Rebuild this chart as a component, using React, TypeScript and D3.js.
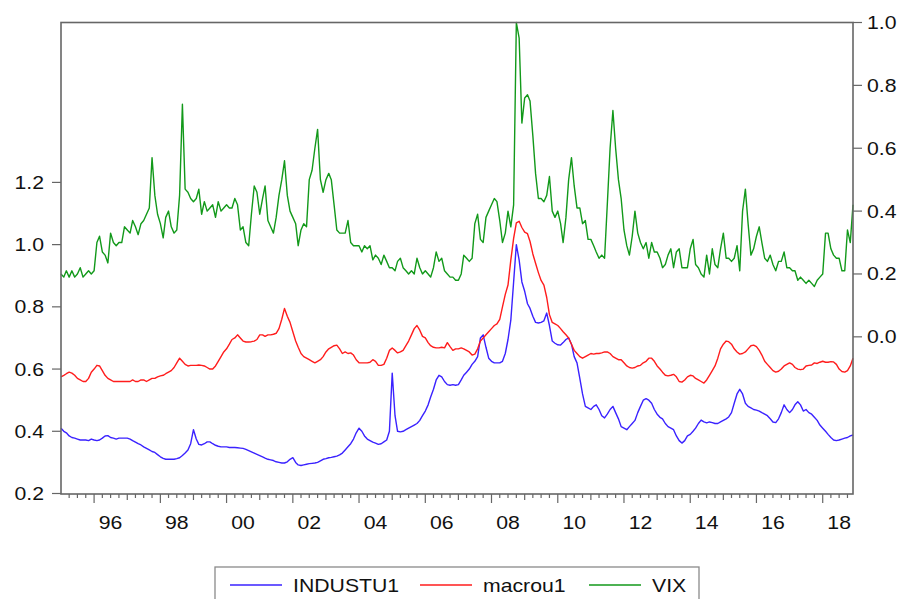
import React from "react";
import * as d3 from "d3";

// Monthly data, 1995M01 - 2018M12 (12 values per row = one year)
const industu1 = [
  0.41, 0.40, 0.395, 0.385, 0.38, 0.378, 0.375, 0.372, 0.372, 0.372, 0.37, 0.375,
  0.372, 0.37, 0.372, 0.378, 0.385, 0.386, 0.38, 0.378, 0.375, 0.378, 0.378, 0.378,
  0.378, 0.375, 0.37, 0.365, 0.36, 0.356, 0.35, 0.345, 0.34, 0.335, 0.332, 0.325,
  0.318, 0.313, 0.31, 0.31, 0.31, 0.31, 0.312, 0.315, 0.322, 0.33, 0.34, 0.36,
  0.405, 0.375, 0.358, 0.356, 0.36, 0.366, 0.366, 0.36, 0.355, 0.352, 0.35, 0.35,
  0.35, 0.348, 0.348, 0.348, 0.347, 0.346, 0.345, 0.342, 0.338, 0.334, 0.33, 0.326,
  0.322, 0.318, 0.314, 0.31, 0.308, 0.306, 0.302, 0.30, 0.298, 0.298, 0.302, 0.31,
  0.315, 0.30, 0.292, 0.29, 0.292, 0.294, 0.296, 0.297, 0.298, 0.30, 0.305, 0.31,
  0.312, 0.315, 0.316, 0.318, 0.32, 0.324, 0.33, 0.34, 0.35, 0.36, 0.375, 0.395,
  0.41, 0.40, 0.385, 0.375, 0.37, 0.365, 0.362, 0.358, 0.36, 0.366, 0.372, 0.40,
  0.587, 0.45, 0.40, 0.398, 0.40, 0.405, 0.41, 0.415, 0.42, 0.425, 0.435, 0.45,
  0.465, 0.485, 0.51, 0.535, 0.565, 0.58, 0.575, 0.56, 0.55, 0.548, 0.55, 0.548,
  0.55, 0.565, 0.58, 0.59, 0.60, 0.615, 0.625, 0.64, 0.70, 0.71, 0.67, 0.635,
  0.625, 0.62, 0.62, 0.62, 0.625, 0.65, 0.695, 0.757, 0.88, 1.0, 0.95, 0.88,
  0.85, 0.81, 0.795, 0.77, 0.75, 0.748, 0.75, 0.755, 0.78, 0.74, 0.69, 0.683,
  0.678, 0.677, 0.685, 0.695, 0.70, 0.68, 0.64, 0.62, 0.57, 0.52, 0.48, 0.475,
  0.47, 0.48, 0.485, 0.47, 0.45, 0.443, 0.455, 0.47, 0.48, 0.46, 0.44, 0.415,
  0.41, 0.405, 0.415, 0.425, 0.435, 0.46, 0.48, 0.50, 0.505, 0.50, 0.49, 0.47,
  0.455, 0.445, 0.44, 0.425, 0.415, 0.41, 0.405, 0.385, 0.37, 0.362, 0.37, 0.385,
  0.39, 0.40, 0.41, 0.425, 0.436, 0.43, 0.427, 0.43, 0.428, 0.425, 0.425, 0.43,
  0.435, 0.44, 0.446, 0.46, 0.49, 0.52, 0.535, 0.52, 0.49, 0.48, 0.475, 0.47,
  0.468, 0.465, 0.46, 0.455, 0.45, 0.44, 0.43, 0.428, 0.44, 0.46, 0.485, 0.47,
  0.46, 0.47, 0.485, 0.495, 0.485, 0.465, 0.47, 0.46, 0.455, 0.445, 0.435, 0.42,
  0.41, 0.40, 0.39, 0.38, 0.372, 0.37, 0.372, 0.375, 0.378, 0.38, 0.385, 0.388,
];

const macrou1 = [
  0.575, 0.58, 0.585, 0.59, 0.587, 0.58, 0.57, 0.565, 0.56, 0.56, 0.57, 0.59,
  0.60, 0.612, 0.61, 0.595, 0.58, 0.57, 0.565, 0.56, 0.56, 0.56, 0.56, 0.56,
  0.56, 0.56, 0.565, 0.56, 0.56, 0.565, 0.565, 0.56, 0.565, 0.57, 0.57, 0.575,
  0.578, 0.58, 0.585, 0.59, 0.595, 0.605, 0.62, 0.635, 0.625, 0.615, 0.61, 0.612,
  0.612, 0.612, 0.613, 0.612, 0.61, 0.605, 0.60, 0.60, 0.61, 0.625, 0.64, 0.655,
  0.665, 0.68, 0.695, 0.70, 0.71, 0.70, 0.69, 0.687, 0.687, 0.688, 0.69, 0.695,
  0.71, 0.71, 0.705, 0.71, 0.71, 0.712, 0.715, 0.73, 0.76, 0.795, 0.77, 0.75,
  0.72, 0.69, 0.67, 0.65, 0.64, 0.635, 0.63, 0.625, 0.62, 0.625, 0.63, 0.64,
  0.655, 0.665, 0.67, 0.675, 0.677, 0.665, 0.65, 0.655, 0.65, 0.652, 0.645, 0.63,
  0.62, 0.62, 0.62, 0.62, 0.622, 0.63, 0.625, 0.612, 0.612, 0.615, 0.635, 0.66,
  0.668, 0.66, 0.652, 0.655, 0.66, 0.675, 0.69, 0.71, 0.73, 0.74, 0.725, 0.705,
  0.70, 0.685, 0.675, 0.67, 0.668, 0.668, 0.67, 0.668, 0.685, 0.672, 0.66, 0.665,
  0.665, 0.668, 0.665, 0.66, 0.655, 0.645, 0.648, 0.665, 0.69, 0.70, 0.71, 0.72,
  0.73, 0.74, 0.745, 0.76, 0.80, 0.84, 0.87, 0.95, 1.02, 1.07, 1.075, 1.055,
  1.04, 1.035, 1.01, 0.97, 0.94, 0.91, 0.885, 0.87, 0.83, 0.775, 0.75, 0.745,
  0.74, 0.73, 0.72, 0.71, 0.70, 0.68, 0.66, 0.65, 0.64, 0.635, 0.64, 0.645,
  0.65, 0.648, 0.65, 0.65, 0.652, 0.655, 0.655, 0.65, 0.64, 0.635, 0.63, 0.63,
  0.62, 0.61, 0.605, 0.603, 0.605, 0.61, 0.612, 0.62, 0.625, 0.635, 0.635, 0.625,
  0.61, 0.60, 0.59, 0.58, 0.578, 0.58, 0.583, 0.575, 0.56, 0.558, 0.565, 0.575,
  0.58, 0.578, 0.57, 0.565, 0.56, 0.555, 0.565, 0.58, 0.595, 0.61, 0.635, 0.665,
  0.68, 0.69, 0.688, 0.68, 0.665, 0.655, 0.648, 0.65, 0.655, 0.665, 0.675, 0.677,
  0.672, 0.66, 0.645, 0.625, 0.615, 0.605, 0.595, 0.59, 0.593, 0.60, 0.61, 0.615,
  0.62, 0.615, 0.605, 0.60, 0.598, 0.60, 0.61, 0.612, 0.613, 0.62, 0.618, 0.622,
  0.625, 0.622, 0.622, 0.624, 0.623, 0.615, 0.60, 0.592, 0.59, 0.595, 0.61, 0.635,
];

const vix = [
  0.20, 0.19, 0.21, 0.19, 0.21, 0.19, 0.20, 0.22, 0.19, 0.20, 0.21, 0.20,
  0.21, 0.30, 0.32, 0.27, 0.26, 0.235, 0.33, 0.30, 0.29, 0.30, 0.30, 0.35,
  0.34, 0.33, 0.37, 0.35, 0.325, 0.36, 0.37, 0.39, 0.41, 0.57, 0.45, 0.39,
  0.36, 0.315, 0.38, 0.40, 0.35, 0.33, 0.34, 0.45, 0.74, 0.47, 0.46, 0.44,
  0.43, 0.44, 0.47, 0.39, 0.43, 0.40, 0.41, 0.42, 0.38, 0.43, 0.40, 0.41,
  0.42, 0.41, 0.41, 0.44, 0.42, 0.34, 0.35, 0.30, 0.29, 0.39, 0.48, 0.46,
  0.39, 0.44, 0.48, 0.37, 0.35, 0.33, 0.38, 0.45, 0.50, 0.56, 0.45, 0.40,
  0.38, 0.36, 0.29, 0.34, 0.36, 0.35, 0.50, 0.53, 0.60, 0.66, 0.50, 0.46,
  0.50, 0.52, 0.50, 0.42, 0.34, 0.33, 0.33, 0.33, 0.37, 0.30, 0.29, 0.29,
  0.29, 0.27, 0.29, 0.28, 0.29, 0.245, 0.26, 0.25, 0.23, 0.26, 0.24, 0.22,
  0.22, 0.21, 0.24, 0.25, 0.22, 0.21, 0.20, 0.21, 0.20, 0.25, 0.22, 0.20,
  0.21, 0.20, 0.19, 0.22, 0.27, 0.24, 0.25, 0.21, 0.20, 0.19, 0.19, 0.18,
  0.18, 0.20, 0.26, 0.25, 0.24, 0.25, 0.36, 0.39, 0.31, 0.30, 0.38, 0.40,
  0.42, 0.44, 0.43, 0.37, 0.30, 0.33, 0.40, 0.35, 0.42, 1.0, 0.95, 0.68,
  0.76, 0.77, 0.75, 0.64, 0.52, 0.44, 0.44, 0.43, 0.45, 0.51, 0.40, 0.38,
  0.40, 0.36, 0.30, 0.38, 0.50, 0.57, 0.48, 0.41, 0.41, 0.36, 0.37, 0.31,
  0.31, 0.29, 0.27, 0.25, 0.26, 0.25, 0.42, 0.60, 0.72, 0.60, 0.50, 0.44,
  0.34, 0.29, 0.26, 0.32, 0.40, 0.33, 0.30, 0.28, 0.30, 0.25, 0.30, 0.27,
  0.27, 0.25, 0.22, 0.23, 0.26, 0.28, 0.22, 0.27, 0.28, 0.22, 0.22, 0.22,
  0.28, 0.31, 0.23, 0.22, 0.20, 0.19, 0.26, 0.20, 0.28, 0.23, 0.22, 0.28,
  0.33, 0.25, 0.25, 0.24, 0.25, 0.29, 0.21, 0.40, 0.47, 0.36, 0.26, 0.28,
  0.32, 0.35, 0.30, 0.25, 0.24, 0.26, 0.23, 0.21, 0.24, 0.24, 0.27, 0.22,
  0.22, 0.21, 0.21, 0.18, 0.19, 0.18, 0.17, 0.18, 0.17, 0.16, 0.18, 0.19,
  0.20, 0.33, 0.33, 0.28, 0.26, 0.25, 0.25, 0.21, 0.21, 0.34, 0.30, 0.42,
];

const seriesNames = ["INDUSTU1", "macrou1", "VIX"];
const seriesColors = ["#3a22ff", "#ff1c1c", "#12991a"];
const leftTicks = [0.2, 0.4, 0.6, 0.8, 1.0, 1.2];
const rightTicks = [0.0, 0.2, 0.4, 0.6, 0.8, 1.0];
const labelYears = [1996, 1998, 2000, 2002, 2004, 2006, 2008, 2010, 2012, 2014, 2016, 2018];
const yearLabels = ["96", "98", "00", "02", "04", "06", "08", "10", "12", "14", "16", "18"];

const FONT = "'Liberation Sans', Arial, sans-serif";

export default function App() {
  const W = 904, H = 599;
  const left = 61, right = 853, top = 22.5, bottom = 494;
  const startDate = new Date(1995, 0, 1);
  const endDate = new Date(2018, 11, 1);
  const x = d3.scaleTime().domain([startDate, endDate]).range([left, right]);
  const yL = d3.scaleLinear().domain([0.2, 1.714]).range([bottom - 0.5, top]);
  const yR = d3.scaleLinear().domain([-0.5, 1.0]).range([bottom, top]);
  const dates = vix.map((_, i) => new Date(1995, i, 1));

  const lineL = d3.line<number>().x((_, i) => x(dates[i])).y((v) => yL(v));
  const lineR = d3.line<number>().x((_, i) => x(dates[i])).y((v) => yR(v));

  const quarterTicks = d3.timeMonth.every(3)!.range(new Date(1995, 3, 1), new Date(2018, 11, 2));

  const fs = 18;
  const sx = 1.18;
  const axisColor = "#666666";

  const txt = (key: string, tx: number, ty: number, s: string, anchor: string) => (
    <text
      key={key}
      transform={`translate(${tx},${ty}) scale(${sx},1)`}
      textAnchor={anchor}
      fontFamily={FONT}
      fontSize={fs}
      fill="#111"
    >
      {s}
    </text>
  );

  const legendY = 585;
  const legendItems = [
    { lx: 230, tx: 293 },
    { lx: 420, tx: 483 },
    { lx: 589, tx: 652 },
  ];

  return (
    <div style={{ position: "absolute", left: 0, top: 0 }}>
      <svg width={W} height={H} style={{ display: "block", background: "#fff" }}>
        {/* series */}
        <path d={lineL(industu1) || ""} fill="none" stroke={seriesColors[0]} strokeWidth={1.4} strokeLinejoin="round" />
        <path d={lineL(macrou1) || ""} fill="none" stroke={seriesColors[1]} strokeWidth={1.4} strokeLinejoin="round" />
        <path d={lineR(vix) || ""} fill="none" stroke={seriesColors[2]} strokeWidth={1.4} strokeLinejoin="round" />

        {/* frame */}
        <rect x={left} y={top} width={right - left} height={bottom - top} fill="none" stroke={axisColor} strokeWidth={1.6} />

        {/* left axis */}
        {leftTicks.map((t) => (
          <g key={"l" + t}>
            <line x1={left - 9} x2={left} y1={yL(t)} y2={yL(t)} stroke={axisColor} strokeWidth={1.2} />
            {txt("lt" + t, left - 17, yL(t) + 6.5, t.toFixed(1), "end")}
          </g>
        ))}

        {/* right axis */}
        {rightTicks.map((t) => (
          <g key={"r" + t}>
            <line x1={right} x2={right + 9} y1={yR(t)} y2={yR(t)} stroke={axisColor} strokeWidth={1.2} />
            {txt("rt" + t, right + 14, yR(t) + 6.5, t.toFixed(1), "start")}
          </g>
        ))}

        {/* bottom ticks */}
        {quarterTicks.map((d, i) => {
          const m = d.getMonth();
          const yr = d.getFullYear();
          const len = m === 0 ? (yr % 2 === 0 ? 9 : 6) : 4;
          return <line key={"q" + i} x1={x(d)} x2={x(d)} y1={bottom} y2={bottom + len} stroke={axisColor} strokeWidth={1.2} />;
        })}
        {labelYears.map((yr, i) =>
          txt("xl" + yr, x(new Date(yr, 6, 1)), 529, yearLabels[i], "middle")
        )}

        {/* legend */}
        <rect x={215} y={567} width={484} height={40} fill="#fff" stroke="#8a8a8a" strokeWidth={1.3} />
        {legendItems.map((it, i) => (
          <g key={"lg" + i}>
            <line x1={it.lx} x2={it.lx + 52} y1={legendY} y2={legendY} stroke={seriesColors[i]} strokeWidth={1.5} />
            {txt("lgt" + i, it.tx, legendY + 6.5, seriesNames[i], "start")}
          </g>
        ))}
      </svg>
    </div>
  );
}
